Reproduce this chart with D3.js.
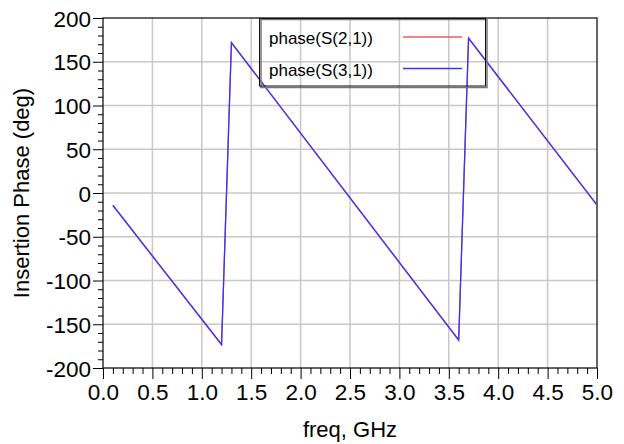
<!DOCTYPE html>
<html>
<head>
<meta charset="utf-8">
<script src="https://cdn.jsdelivr.net/npm/d3@7"></script>
<style>
  body { margin: 0; background: #fff; }
  svg { font-family: "Liberation Sans", Arial, sans-serif; }
</style>
</head>
<body>
<div id="chart"></div>
<script>
// freq sweep vertices (GHz) and phases (deg)
const freqGHz = [0.1, 1.2, 1.3, 3.6, 3.7, 5.0]
const phaseS21 = [-14.5, -173.5, 171.5, -168.5, 176.5, -14]
const phaseS31 = [-14, -173, 172, -168, 177, -13.5]

const seriesNames = ["phase(S(2,1))", "phase(S(3,1))"]
const seriesColors = ["#f05a5a", "#3434ff"]

const xTicks = [0, 0.5, 1, 1.5, 2, 2.5, 3, 3.5, 4, 4.5, 5]
const yTicks = [-200, -150, -100, -50, 0, 50, 100, 150, 200]

const W = 624, H = 444
const margin = { top: 18, right: 27, bottom: 76, left: 103 }
const width = W - margin.left - margin.right,
    height = H - margin.top - margin.bottom

const svg = d3.select("#chart").append("svg")
    .attr("width", W)
    .attr("height", H)

const g = svg.append("g")
    .attr("transform", "translate(" + margin.left + "," + margin.top + ")")

const x = d3.scaleLinear().domain([0, 5]).range([0, width])
const y = d3.scaleLinear().domain([-200, 200]).range([height, 0])

// grid
g.append("g").selectAll("line").data(xTicks.slice(1, -1)).enter().append("line")
    .attr("x1", d => x(d)).attr("x2", d => x(d))
    .attr("y1", 0).attr("y2", height)
    .attr("stroke", "#c8c8c8").attr("stroke-width", 1.5)
g.append("g").selectAll("line").data(yTicks.slice(1, -1)).enter().append("line")
    .attr("x1", 0).attr("x2", width)
    .attr("y1", d => y(d)).attr("y2", d => y(d))
    .attr("stroke", "#c8c8c8").attr("stroke-width", 1.5)

// minor ticks
const xMinor = d3.range(0, 51).map(i => i / 10).filter(v => Math.round(v * 10) % 5 !== 0)
const yMinor = d3.range(-200, 201, 10).filter(v => v % 50 !== 0)

g.append("g").attr("transform", "translate(0," + height + ")")
    .call(d3.axisBottom(x).tickValues(xMinor).tickSize(6).tickFormat(""))
    .call(a => a.select(".domain").remove())
g.append("g")
    .call(d3.axisLeft(y).tickValues(yMinor).tickSize(5).tickFormat(""))
    .call(a => a.select(".domain").remove())

// major axes (plain hyphen for negatives, like the original)
const xAxis = g.append("g").attr("transform", "translate(0," + height + ")")
    .call(d3.axisBottom(x).tickValues(xTicks).tickSize(11).tickPadding(5).tickFormat(d => d.toFixed(1)))
xAxis.selectAll("text").attr("font-size", 22.5).attr("fill", "#000")
xAxis.select(".domain").remove()

const yAxis = g.append("g")
    .call(d3.axisLeft(y).tickValues(yTicks).tickSize(10).tickPadding(2).tickFormat(d => String(d)))
yAxis.selectAll("text").attr("font-size", 22.5).attr("fill", "#000").attr("dy", "0.36em")
yAxis.select(".domain").remove()

// frame
g.append("rect")
    .attr("width", width).attr("height", height)
    .attr("fill", "none").attr("stroke", "#000").attr("stroke-width", 1.2)

// curves
const line = d3.line()
    .x((d, i) => x(freqGHz[i]))
    .y(d => y(d))

;[phaseS21, phaseS31].forEach((s, k) => {
    g.append("path")
        .datum(s)
        .attr("d", line)
        .attr("fill", "none")
        .attr("stroke", seriesColors[k])
        .attr("stroke-width", 1.3)
})

// legend
const lg = svg.append("g")
lg.append("rect")
    .attr("x", 261).attr("y", 19.5).attr("width", 226).attr("height", 68)
    .attr("fill", "none").attr("stroke", "#777").attr("stroke-width", 1.5)
lg.append("rect")
    .attr("x", 259.5).attr("y", 18.5).attr("width", 226).attr("height", 67.5)
    .attr("fill", "none").attr("stroke", "#111").attr("stroke-width", 1)

seriesNames.forEach((name, k) => {
    lg.append("text")
        .attr("x", 269).attr("y", 44 + k * 31.5)
        .attr("font-size", 17)
        .text(name)
    lg.append("line")
        .attr("x1", 403).attr("x2", 462)
        .attr("y1", 37 + k * 31.5).attr("y2", 37 + k * 31.5)
        .attr("stroke", seriesColors[k]).attr("stroke-width", 1.3)
})

// axis titles
svg.append("text")
    .attr("x", margin.left + width / 2).attr("y", 436.5)
    .attr("text-anchor", "middle").attr("font-size", 22)
    .text("freq, GHz")
svg.append("text")
    .attr("transform", "translate(28.5," + (margin.top + height / 2) + ") rotate(-90)")
    .attr("text-anchor", "middle").attr("font-size", 22)
    .text("Insertion Phase (deg)")
</script>
</body>
</html>
